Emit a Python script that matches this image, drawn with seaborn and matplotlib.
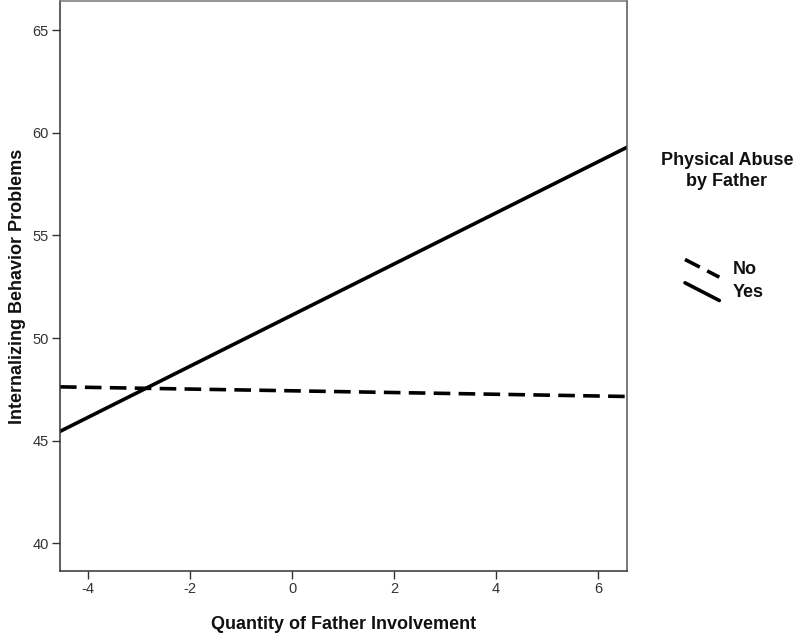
import numpy as np
import matplotlib
matplotlib.use("Agg")
import matplotlib.pyplot as plt
import pandas as pd
import seaborn as sns
from matplotlib.lines import Line2D
from matplotlib.legend_handler import HandlerLine2D

# data (line end points at the axis edges)
involvement = [-4.55, 6.57]
abuse_no = [47.62, 47.15]
abuse_yes = [45.45, 59.30]
groups = ["No", "Yes"]
x_ticks = [-4, -2, 0, 2, 4, 6]
y_ticks = [40, 45, 50, 55, 60, 65]

df = pd.DataFrame({
    "Quantity of Father Involvement": involvement * 2,
    "Internalizing Behavior Problems": abuse_no + abuse_yes,
    "Physical Abuse by Father": [groups[0]] * 2 + [groups[1]] * 2,
})

sns.set_style("ticks")
plt.rcParams["font.family"] = ["Liberation Sans", "DejaVu Sans"]
plt.rcParams["axes.unicode_minus"] = False

fig = plt.figure(figsize=(8, 6.36), dpi=100)
ax = fig.add_axes([0.075, 0.102, 0.709, 0.896])

dashes = {"No": (4.6, 2.3), "Yes": ""}
sns.lineplot(data=df, x="Quantity of Father Involvement",
             y="Internalizing Behavior Problems",
             style="Physical Abuse by Father", dashes=dashes,
             color="black", linewidth=2.6, legend=False, ax=ax)

ax.set_xlim(-4.55, 6.57)
ax.set_ylim(38.64, 66.41)
ax.set_xticks(x_ticks)
ax.set_yticks(y_ticks)
ax.tick_params(axis="both", labelsize=10.5, labelcolor="#333333", length=6,
               width=1, color="#333333", pad=2)
for s in ax.spines.values():
    s.set_visible(True)
    s.set_color("#333333")
    s.set_linewidth(1.1)
ax.spines["top"].set_color("#777777")
ax.spines["right"].set_color("#555555")

ax.set_xlabel("Quantity of Father Involvement", fontsize=13, fontweight="bold",
              labelpad=14, color="#111111")
ax.set_ylabel("Internalizing Behavior Problems", fontsize=13, fontweight="bold",
              labelpad=5, color="#111111")


class SlantHandler(HandlerLine2D):
    # legend handle drawn as a short diagonal, like the reference
    def create_artists(self, legend, orig_handle, xdescent, ydescent,
                       width, height, fontsize, trans):
        line = Line2D([-xdescent, -xdescent + width],
                      [height * 1.15 - ydescent, -height * 0.25 - ydescent])
        self.update_prop(line, orig_handle, legend)
        line.set_transform(trans)
        return [line]


handles = [
    Line2D([], [], color="black", linewidth=2.6, linestyle=(0, dashes["No"])),
    Line2D([], [], color="black", linewidth=2.6),
]
leg = fig.legend(handles, groups, loc="upper left",
                 bbox_to_anchor=(676 / 800, 1 - 252 / 636),
                 frameon=False, fontsize=13, borderpad=0, handlelength=1.9,
                 handletextpad=0.75, labelspacing=0.35,
                 handler_map={Line2D: SlantHandler()})
for t in leg.get_texts():
    t.set_fontweight("bold")
    t.set_color("#111111")

fig.text(727 / 800, 1 - 171 / 636, "Physical Abuse\nby Father", ha="center",
         va="center", fontsize=13, fontweight="bold", linespacing=1.25,
         color="#111111")

fig.savefig("out.png", dpi=100)
